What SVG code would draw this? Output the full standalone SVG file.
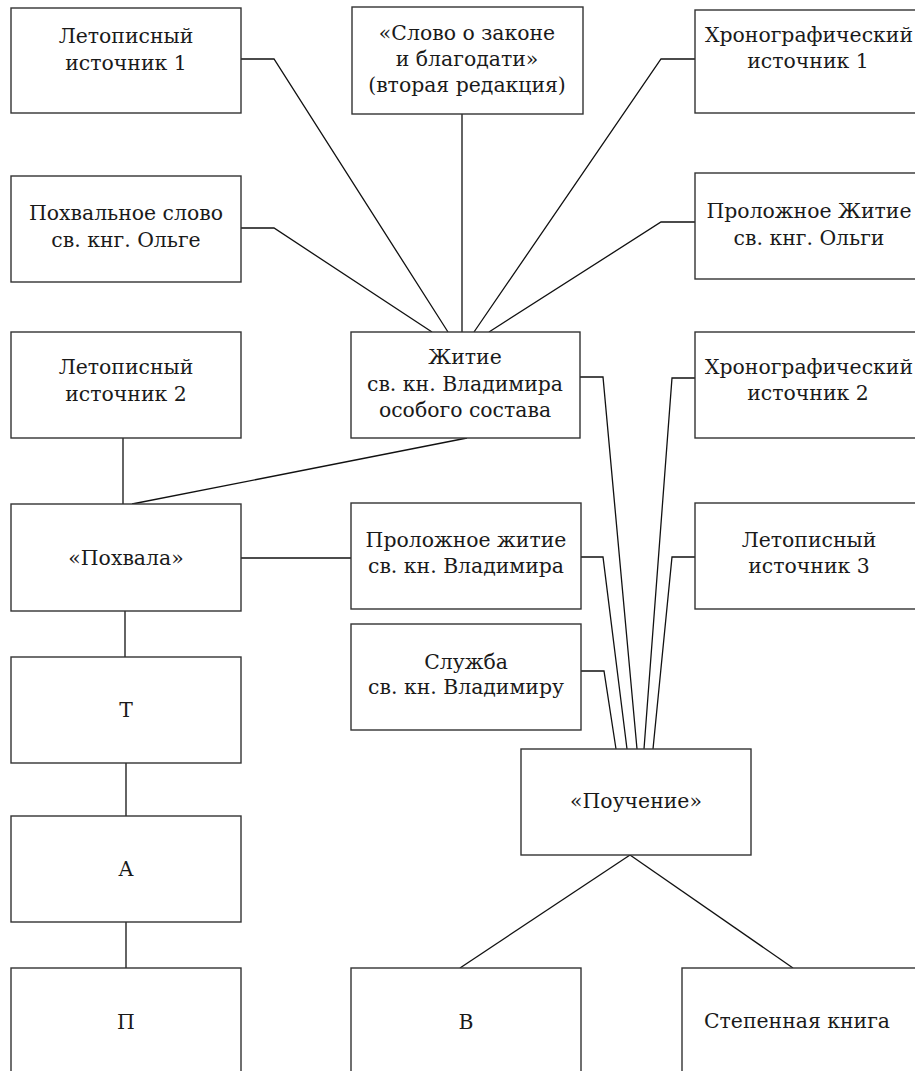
<svg xmlns="http://www.w3.org/2000/svg" width="915" height="1071" viewBox="0 0 915 1071">
<style>
.box{fill:#fff;stroke:#333;stroke-width:1.4}
.t{font-family:"DejaVu Serif",serif;font-size:20.4px;fill:#1a1a1a;text-anchor:middle}
.c{fill:none;stroke:#111;stroke-width:1.3}
</style>
<rect width="915" height="1071" fill="#fff"/>
<g id="connectors">
<polyline class="c" points="241,59 274,59 448,332"/>
<polyline class="c" points="241,228 274,228 432,332"/>
<polyline class="c" points="462,114 462,332"/>
<polyline class="c" points="695,59 661,59 474,332"/>
<polyline class="c" points="695,222 661,222 489,332"/>
<polyline class="c" points="123,438 123,504"/>
<polyline class="c" points="467,438 132,504"/>
<polyline class="c" points="241,558 351,558"/>
<polyline class="c" points="125,611 125,657"/>
<polyline class="c" points="126,763 126,816"/>
<polyline class="c" points="126,922 126,968"/>
<polyline class="c" points="580,377 603,377 637,749"/>
<polyline class="c" points="581,557 603,557 627,749"/>
<polyline class="c" points="581,671 604,671 616,749"/>
<polyline class="c" points="695,378 672,378 644,749"/>
<polyline class="c" points="695,557 672,557 653,749"/>
<polyline class="c" points="630,855 460,968"/>
<polyline class="c" points="630,855 793,968"/>
</g>
<g id="let1"><rect class="box" x="11" y="8" width="230" height="105"/><text class="t" x="126" y="43">Летописный</text><text class="t" x="126" y="70">источник 1</text></g>
<g id="slovo"><rect class="box" x="352" y="7" width="231" height="107"/><text class="t" x="467" y="40">«Слово о законе</text><text class="t" x="467" y="66">и благодати»</text><text class="t" x="467" y="92">(вторая редакция)</text></g>
<g id="chron1"><rect class="box" x="695" y="10" width="240" height="103"/><text class="t" x="809" y="42">Хронографический</text><text class="t" x="808" y="68">источник 1</text></g>
<g id="pohvslovo"><rect class="box" x="11" y="176" width="230" height="106"/><text class="t" x="126" y="220">Похвальное слово</text><text class="t" x="126" y="247">св. кнг. Ольге</text></g>
<g id="prolog_olga"><rect class="box" x="695" y="173" width="240" height="106"/><text class="t" x="809" y="218">Проложное Житие</text><text class="t" x="809" y="245">св. кнг. Ольги</text></g>
<g id="let2"><rect class="box" x="11" y="332" width="230" height="106"/><text class="t" x="126" y="374">Летописный</text><text class="t" x="126" y="401">источник 2</text></g>
<g id="zhitie"><rect class="box" x="351" y="332" width="229" height="106"/><text class="t" x="465" y="364">Житие</text><text class="t" x="465" y="391">св. кн. Владимира</text><text class="t" x="465" y="417">особого состава</text></g>
<g id="chron2"><rect class="box" x="695" y="332" width="240" height="106"/><text class="t" x="809" y="374">Хронографический</text><text class="t" x="808" y="400">источник 2</text></g>
<g id="pohvala"><rect class="box" x="11" y="504" width="230" height="107"/><text class="t" x="126" y="565">«Похвала»</text></g>
<g id="prolog_vlad"><rect class="box" x="351" y="503" width="230" height="106"/><text class="t" x="466" y="547">Проложное житие</text><text class="t" x="466" y="573">св. кн. Владимира</text></g>
<g id="let3"><rect class="box" x="695" y="503" width="240" height="106"/><text class="t" x="809" y="547">Летописный</text><text class="t" x="809" y="573">источник 3</text></g>
<g id="sluzhba"><rect class="box" x="351" y="624" width="230" height="106"/><text class="t" x="466" y="669">Служба</text><text class="t" x="466" y="694">св. кн. Владимиру</text></g>
<g id="T"><rect class="box" x="11" y="657" width="230" height="106"/><text class="t" x="126" y="717">Т</text></g>
<g id="pouchenie"><rect class="box" x="521" y="749" width="230" height="106"/><text class="t" x="636" y="808">«Поучение»</text></g>
<g id="A"><rect class="box" x="11" y="816" width="230" height="106"/><text class="t" x="126" y="876">А</text></g>
<g id="P"><rect class="box" x="11" y="968" width="230" height="120"/><text class="t" x="126" y="1029">П</text></g>
<g id="V"><rect class="box" x="351" y="968" width="230" height="120"/><text class="t" x="466" y="1029">В</text></g>
<g id="stepen"><rect class="box" x="682" y="968" width="250" height="120"/><text class="t" x="797" y="1028">Степенная книга</text></g>
</svg>
